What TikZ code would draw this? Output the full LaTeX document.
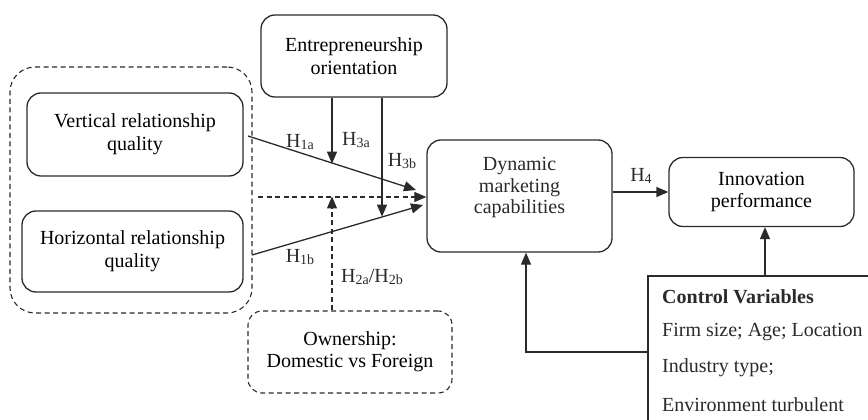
\documentclass[tikz,border=0pt]{standalone}
\usepackage{fontspec}
\setmainfont{Liberation Serif}
\usetikzlibrary{arrows.meta,calc}
\definecolor{ink}{HTML}{2A2A2A}
\newcommand{\hsub}[1]{H\raisebox{-1.5pt}{\fontsize{14}{14}\selectfont #1}}
\begin{document}
\begin{tikzpicture}[x=1pt,y=-1pt,font=\fontsize{20}{23}\selectfont,
  box/.style={draw=ink,line width=1.3pt,rounded corners=14pt,inner sep=0pt,align=center},
  dbox/.style={box,dash pattern=on 5pt off 3.5pt,line width=1.1pt},
  arr/.style={draw=ink,line width=1.3pt,-{Triangle[length=12pt,width=10pt]}},
  darr/.style={arr,dash pattern=on 5pt off 3.5pt,line width=1.1pt},
  lab/.style={inner sep=0pt,text=ink},
  txt/.style={inner sep=0pt,align=center,text=ink}]
\useasboundingbox (0,0) rectangle (868,420);
\clip (0,0) rectangle (868,420);

% group and boxes
\node[dbox,rounded corners=25pt,minimum width=242pt,minimum height=246pt] (grp) at (131,190) {};
\node[box,minimum width=216pt,minimum height=83pt] (vrq) at (135,134.5) {Vertical relationship\\quality};
\node[box,minimum width=221pt,minimum height=81pt] (hrq) at (132.5,251.5) {Horizontal relationship\\quality};
\node[box,minimum width=186pt,minimum height=82pt] (eo) at (354,56) {Entrepreneurship\\orientation};
\node[box,minimum width=185pt,minimum height=112pt] (dmc) at (519.5,196) {};
\node[txt,font=\fontsize{20}{21.5}\selectfont] (dmct) at (519.5,188) {Dynamic\\marketing\\capabilities};
\node[box,minimum width=185pt,minimum height=69pt,font=\fontsize{20}{22}\selectfont] (ip) at (761.5,192) {Innovation\\performance};
\node[dbox,minimum width=204pt,minimum height=82pt,font=\fontsize{20}{22}\selectfont] (own) at (350,352) {Ownership:\\Domestic vs Foreign};
\node[draw=ink,line width=1.3pt,minimum width=252pt,minimum height=152pt,inner sep=0pt] (ctrl) at (774,352) {};
\node[lab,anchor=west] (c1) at (662,297) {\bfseries Control Variables};
\node[lab,anchor=west] (c2) at (662,332) {Firm size; Age; Location};
\node[lab,anchor=west] (c3) at (662,368) {Industry type;};
\node[lab,anchor=west] (c4) at (662,405) {Environment turbulent};

% coordinates
\coordinate (s1) at (248,136);
\coordinate (t1) at (416,190);
\coordinate (s2) at (252,255);
\coordinate (t2) at (423,205);
\coordinate (sd) at (258,197);

% connectors
\draw[arr] (s1) -- (t1);
\draw[arr] (s2) -- (t2);
\draw[arr] ([xshift=-22pt]eo.south) -- ++(0,66);
\draw[arr] ([xshift=28pt]eo.south) -- ++(0,119);
\draw[darr] (sd) -- (sd -| dmc.west);
\draw[darr] ([xshift=-18pt]own.north) -- ++(0,-114);
\draw[arr] (dmc.east |- ip.west) -- (ip.west);
\draw[arr] (ctrl.north -| 765,0) -- (765,0 |- ip.south);
\draw[arr] (ctrl.west) -| ([xshift=6.5pt]dmc.south);

% labels
\node[lab] (l1a) at (300,142) {\hsub{1a}};
\node[lab] (l3a) at (356,140) {\hsub{3a}};
\node[lab] (l3b) at (402,161) {\hsub{3b}};
\node[lab] (l1b) at (300,257) {\hsub{1b}};
\node[lab] (l2) at (372,277) {\hsub{2a}/\hsub{2b}};
\node[lab] (l4) at (641,176) {\hsub{4}};
\end{tikzpicture}
\end{document}
